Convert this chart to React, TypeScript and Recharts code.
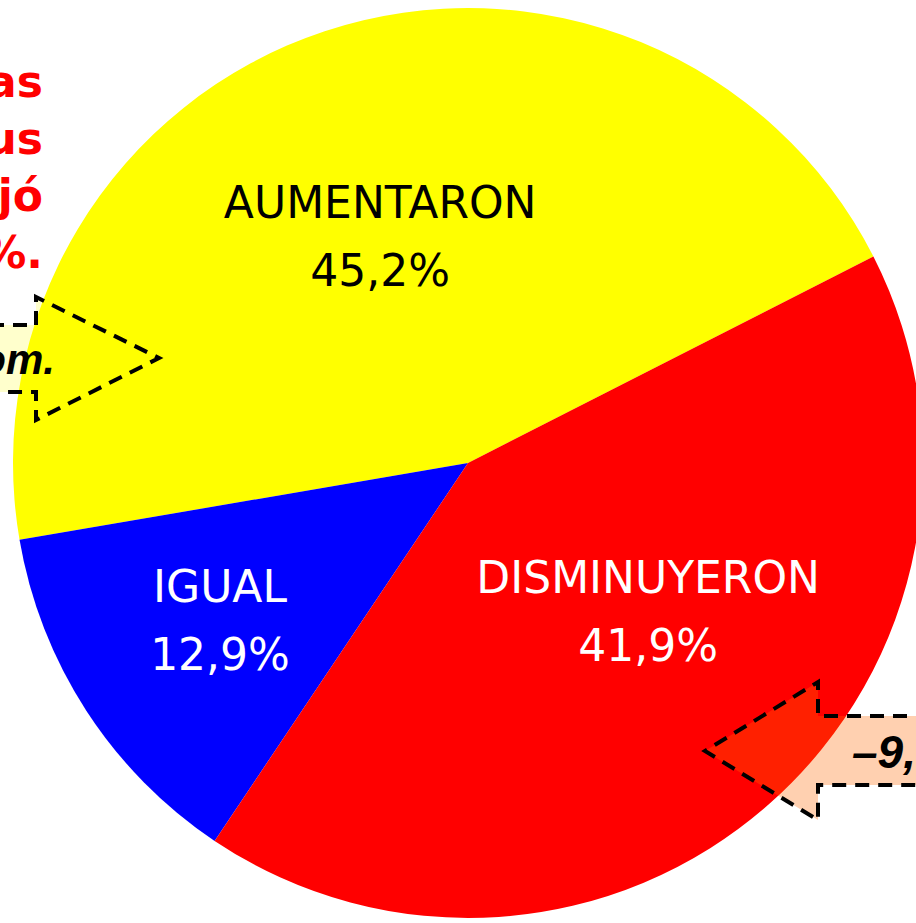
import { PieChart, Pie, Cell } from 'recharts';

// ── Data ────────────────────────────────────────────────────────────
const CATEGORIES = ['AUMENTARON', 'IGUAL', 'DISMINUYERON'];
const SHARES = [45.2, 12.9, 41.9];
const SLICE_COLORS = ['#FFFF00', '#0000FF', '#FF0000'];
const LABEL_COLORS = ['#000000', '#FFFFFF', '#FFFFFF'];

// cut-off note on the left edge (only its line endings are visible)
const NOTE_LINES = ['as', 'us', 'jó', '%.'];
// cut-off callout texts
const LEFT_CALLOUT = 'om.';
const RIGHT_CALLOUT = '\u20139,';

const data = CATEGORIES.map((name, i) => ({ name, value: SHARES[i] }));

// label centres, as fractions of the radius from the pie centre
const LABEL_SPOT: Array<[number, number]> = [
  [-0.193, -0.497],
  [-0.545, 0.347],
  [0.396, 0.327],
];

const W = 916;
const H = 923;
const FONT = '"DejaVu Sans", Verdana, sans-serif';
const CALLOUT_FONT = '"Liberation Sans", Arial, sans-serif';
const fmt = (v: number) => `${v.toFixed(1).replace('.', ',')}%`;

function SliceLabel(props: any) {
  const { cx, cy, outerRadius, index, name, value } = props;
  const [fx, fy] = LABEL_SPOT[index];
  const x = cx + fx * outerRadius;
  const y = cy + fy * outerRadius;
  return (
    <text
      x={x}
      y={y}
      textAnchor="middle"
      fill={LABEL_COLORS[index]}
      fontFamily={FONT}
      fontSize={44}
    >
      <tspan x={x} dy={-19}>{name}</tspan>
      <tspan x={x} dy={68}>{fmt(value)}</tspan>
    </text>
  );
}

const dash = { stroke: '#000', strokeWidth: 4, strokeDasharray: '14 9', fill: 'none' };

export default function App() {
  return (
    <div style={{ position: 'absolute', left: 0, top: 0, width: W, height: H, overflow: 'hidden', background: '#fff' }}>
      <PieChart width={W} height={H} margin={{ top: 0, right: 0, bottom: 0, left: 0 }}>
        <Pie
          data={data}
          dataKey="value"
          cx={468}
          cy={463}
          outerRadius={455}
          startAngle={27}
          endAngle={387}
          stroke="none"
          label={SliceLabel}
          labelLine={false}
          isAnimationActive={false}
        >
          {data.map((_, i) => (
            <Cell key={i} fill={SLICE_COLORS[i]} />
          ))}
        </Pie>
      </PieChart>

      <svg width={W} height={H} style={{ position: 'absolute', left: 0, top: 0, pointerEvents: 'none' }}>
        {/* red note, cut at the left edge */}
        <text x={43} y={97} textAnchor="end" fill="#FF0000" fontFamily={FONT} fontWeight="bold" fontSize={44}>
          {NOTE_LINES.map((t, i) => (
            <tspan key={i} x={43} dy={i === 0 ? 0 : 57}>{t}</tspan>
          ))}
        </text>

        {/* left callout arrow */}
        <path d="M-10,325 L36,325 L36,297 L159,358 L36,420 L36,392 L-10,392 Z" fill="rgba(255,255,0,0.2)" stroke="none" />
        <path d="M-10,325 L36,325 L36,297 L159,358 L36,420 L36,392 L-10,392" {...dash} />
        <text x={55} y={374} textAnchor="end" fontFamily={CALLOUT_FONT} fontStyle="italic" fontWeight="bold" fontSize={42} fill="#000">
          {LEFT_CALLOUT}
        </text>

        {/* right callout arrow */}
        <path d="M930,716 L818,716 L818,682 L705,751 L818,820 L818,785 L930,785 Z" fill="rgba(255,102,0,0.31)" stroke="none" />
        <path d="M930,716 L818,716 L818,682 L705,751 L818,820 L818,785 L930,785" {...dash} />
        <text x={852} y={768} fontFamily={CALLOUT_FONT} fontStyle="italic" fontWeight="bold" fontSize={46} fill="#000">
          {RIGHT_CALLOUT}
        </text>
      </svg>
    </div>
  );
}
